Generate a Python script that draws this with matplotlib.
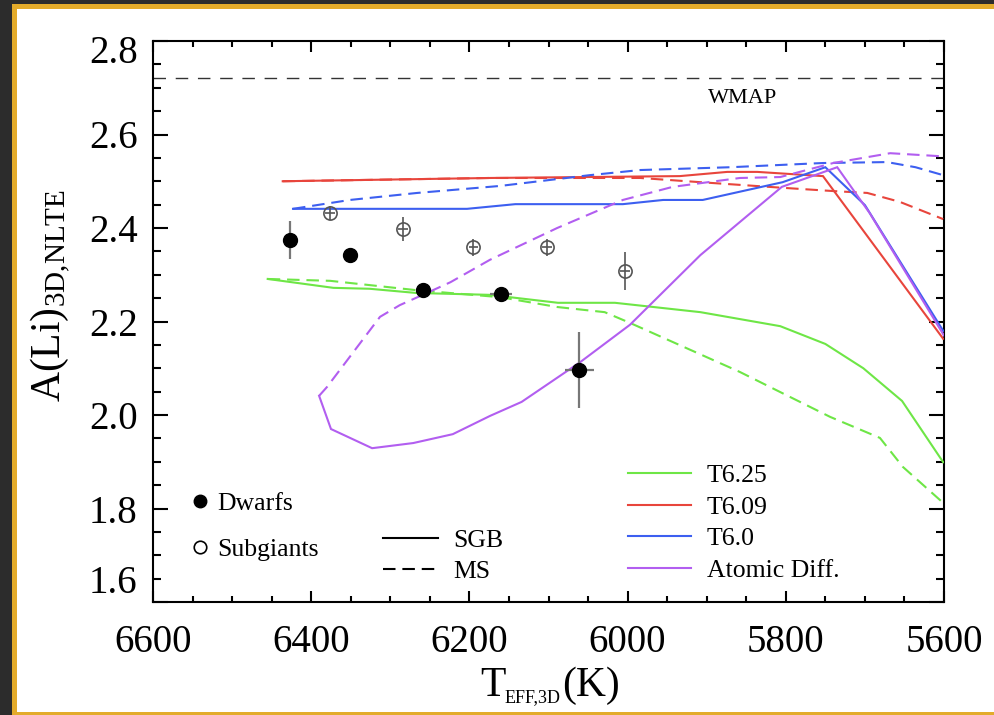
import matplotlib
matplotlib.use('Agg')
import matplotlib.pyplot as plt
from matplotlib.patches import Rectangle
from matplotlib.lines import Line2D
import matplotlib.transforms as mtransforms

plt.rcParams['font.family'] = ['Liberation Serif', 'DejaVu Serif']
plt.rcParams['mathtext.fontset'] = 'custom'
plt.rcParams['mathtext.rm'] = 'Liberation Serif'
plt.rcParams['mathtext.it'] = 'Liberation Serif:italic'

# ---------------- data ----------------
wmap_li = 2.72

# T6.25 models
t625_sgb_teff = [6455, 6372, 6326, 6267, 6174, 6088, 6016, 5908, 5807, 5750, 5702, 5653, 5601]
t625_sgb_li   = [2.291, 2.272, 2.270, 2.261, 2.257, 2.240, 2.240, 2.220, 2.190, 2.152, 2.100, 2.030, 1.899]
t625_ms_teff  = [6455, 6376, 6267, 6161, 6089, 6029, 5997, 5858, 5807, 5744, 5681, 5652, 5601]
t625_ms_li    = [2.291, 2.287, 2.267, 2.252, 2.231, 2.220, 2.197, 2.092, 2.049, 1.996, 1.951, 1.889, 1.812]

# T6.09 models
t609_sgb_teff = [6436, 6174, 5934, 5874, 5836, 5753, 5601]
t609_sgb_li   = [2.500, 2.507, 2.511, 2.520, 2.520, 2.511, 2.163]
t609_ms_teff  = [6436, 6174, 5984, 5908, 5804, 5740, 5697, 5656, 5601]
t609_ms_li    = [2.500, 2.507, 2.507, 2.498, 2.486, 2.479, 2.475, 2.456, 2.419]

# T6.0 models
t60_sgb_teff = [6423, 6203, 6142, 6006, 5955, 5905, 5804, 5750, 5700, 5601]
t60_sgb_li   = [2.441, 2.441, 2.451, 2.451, 2.460, 2.460, 2.498, 2.530, 2.449, 2.180]
t60_ms_teff  = [6423, 6351, 6266, 6161, 6048, 5984, 5870, 5753, 5672, 5636, 5601]
t60_ms_li    = [2.441, 2.460, 2.475, 2.490, 2.513, 2.524, 2.530, 2.539, 2.541, 2.530, 2.513]

# Atomic diffusion models
ad_sgb_teff = [6390, 6375, 6323, 6271, 6221, 6174, 6134, 6060, 5997, 5908, 5805, 5735, 5694, 5600]
ad_sgb_li   = [2.041, 1.970, 1.929, 1.940, 1.959, 1.998, 2.028, 2.113, 2.193, 2.342, 2.488, 2.530, 2.432, 2.170]
ad_ms_teff  = [6390, 6380, 6313, 6288, 6259, 6224, 6174, 6089, 6006, 5943, 5858, 5807, 5740, 5668, 5609, 5600]
ad_ms_li    = [2.041, 2.060, 2.210, 2.235, 2.257, 2.284, 2.332, 2.400, 2.460, 2.488, 2.507, 2.509, 2.539, 2.560, 2.554, 2.553]

# observed stars
dwarf_teff = [6427, 6351, 6259, 6160, 6061]
dwarf_li   = [2.374, 2.342, 2.268, 2.259, 2.096]
dwarf_teff_err = [0, 0, 8, 14, 18]
dwarf_li_err   = [0.041, 0.0, 0.0, 0.0, 0.081]

sub_teff = [6376, 6284, 6195, 6102, 6003]
sub_li   = [2.432, 2.398, 2.359, 2.359, 2.308]
sub_teff_err = [6, 6, 6, 6, 6]
sub_li_err   = [0.015, 0.026, 0.018, 0.018, 0.040]

model_labels = ['T6.25', 'T6.09', 'T6.0', 'Atomic Diff.']
model_colors = ['#6ee646', '#e8453c', '#3d5ff0', '#b25ef0']

# ---------------- figure ----------------
fig = plt.figure(figsize=(9.94, 7.15), dpi=100)
fig.patch.set_facecolor('white')
W, H = 994.0, 715.0


def frame_rect(x0, y0_top, w, h, color, z=-20):
    # pixel coords measured from top-left
    fig.patches.append(Rectangle((x0 / W, 1 - (y0_top + h) / H), w / W, h / H,
                                 transform=fig.transFigure, facecolor=color,
                                 edgecolor='none', zorder=z))


dark = '#2c2c2c'
gold = '#e3ab2b'
frame_rect(0, 0, 12, 715, dark)
frame_rect(0, 0, 994, 4, dark)
frame_rect(12, 4, 5, 711, gold)
frame_rect(12, 4, 982, 5, gold)
frame_rect(12, 712, 982, 3, gold)
frame_rect(975, 9, 19, 703, 'white', z=-10)

ax = fig.add_axes([153 / W, 1 - 602 / H, 791 / W, 561 / H])
ax.set_facecolor('none')
ax.set_xlim(6600, 5600)
ax.set_ylim(1.6, 2.8)

dash = (0, (6, 3.3))
lw = 1.5
series = [
    (t625_sgb_teff, t625_sgb_li, t625_ms_teff, t625_ms_li),
    (t609_sgb_teff, t609_sgb_li, t609_ms_teff, t609_ms_li),
    (t60_sgb_teff, t60_sgb_li, t60_ms_teff, t60_ms_li),
    (ad_sgb_teff, ad_sgb_li, ad_ms_teff, ad_ms_li),
]
for (sx, sy, mx, my), c in zip(series, model_colors):
    ax.plot(sx, sy, color=c, lw=lw, solid_joinstyle='miter', zorder=3)
    ax.plot(mx, my, color=c, lw=lw, ls=dash, zorder=3)

ax.axhline(wmap_li, color='#333333', lw=1.0, ls=(0, (9, 7)), zorder=2)
ax.text(5855, 2.676, 'WMAP', ha='center', va='center', fontsize=16)

ax.errorbar(sub_teff, sub_li, xerr=sub_teff_err, yerr=sub_li_err, fmt='o', ms=9.5,
            mfc='none', mec='#555555', mew=1.2, ecolor='#555555', elinewidth=1.2,
            capsize=0, zorder=5)
ax.errorbar(dwarf_teff, dwarf_li, xerr=dwarf_teff_err, yerr=dwarf_li_err, fmt='o', ms=10,
            color='black', ecolor='#777777', elinewidth=1.6, capsize=0, zorder=6)

# ticks
ax.set_xticks([6600, 6400, 6200, 6000, 5800, 5600])
ax.set_xticks(list(range(5600, 6601, 50)), minor=True)
ax.set_yticks([1.6, 1.8, 2.0, 2.2, 2.4, 2.6, 2.8])
ax.set_yticks([1.6 + 0.05 * i for i in range(25)], minor=True)
ax.set_yticklabels(['1.6', '1.8', '2.0', '2.2', '2.4', '2.6', '2.8'])
ax.tick_params(which='both', direction='in', top=True, right=True, width=1.5,
               labelsize=28, colors='black')
ax.tick_params(axis='x', which='major', length=8, pad=16)
ax.tick_params(axis='x', which='minor', length=4.5)
ax.tick_params(axis='y', which='major', length=11, pad=11)
ax.tick_params(axis='y', which='minor', length=5.5)
for s in ax.spines.values():
    s.set_linewidth(1.5)

ylabs = ax.get_yticklabels()
ylabs[0].set_va('bottom')
ylabs[-1].set_va('top')
ylabs[-1].set_transform(ylabs[-1].get_transform() +
                        mtransforms.ScaledTranslation(0, 4 / 72, fig.dpi_scale_trans))

fig.text(51 / W, 1 - 296 / H, r'A(Li)$_{\mathrm{3D{,}NLTE}}$', rotation=90,
         ha='center', va='center', fontsize=30)
# x label built from pieces (small subscript like the original)
fig.text(480 / W, 1 - 696 / H, 'T', ha='left', va='baseline', fontsize=30)
fig.text(505 / W, 1 - 702 / H, 'EFF,3D', ha='left', va='baseline', fontsize=13)
fig.text(562 / W, 1 - 696 / H, '(K)', ha='left', va='baseline', fontsize=30)

# legends
h1 = [Line2D([], [], marker='o', ls='none', color='black', ms=9),
      Line2D([], [], marker='o', ls='none', mfc='none', mec='black', mew=1.2, ms=9)]
leg1 = ax.legend(h1, ['Dwarfs', 'Subgiants'], loc='upper left',
                 bbox_to_anchor=(0.0468, 0.196), frameon=False, fontsize=18.5,
                 handlelength=0.8, handletextpad=0.25, labelspacing=0.91,
                 borderpad=0, borderaxespad=0)
ax.add_artist(leg1)

h2 = [Line2D([], [], color='black', lw=1.5),
      Line2D([], [], color='black', lw=1.5, ls=dash)]
leg2 = ax.legend(h2, ['SGB', 'MS'], loc='upper left',
                 bbox_to_anchor=(0.2908, 0.130), frameon=False, fontsize=18.5,
                 handlelength=2.14, handletextpad=0.58, labelspacing=0.31,
                 borderpad=0, borderaxespad=0)
ax.add_artist(leg2)

h3 = [Line2D([], [], color=c, lw=1.5) for c in model_colors]
leg3 = ax.legend(h3, model_labels, loc='upper left',
                 bbox_to_anchor=(0.6005, 0.246), frameon=False, fontsize=18.5,
                 handlelength=2.45, handletextpad=0.62, labelspacing=0.34,
                 borderpad=0, borderaxespad=0)

fig.savefig('out.png', dpi=100, facecolor=fig.get_facecolor())
